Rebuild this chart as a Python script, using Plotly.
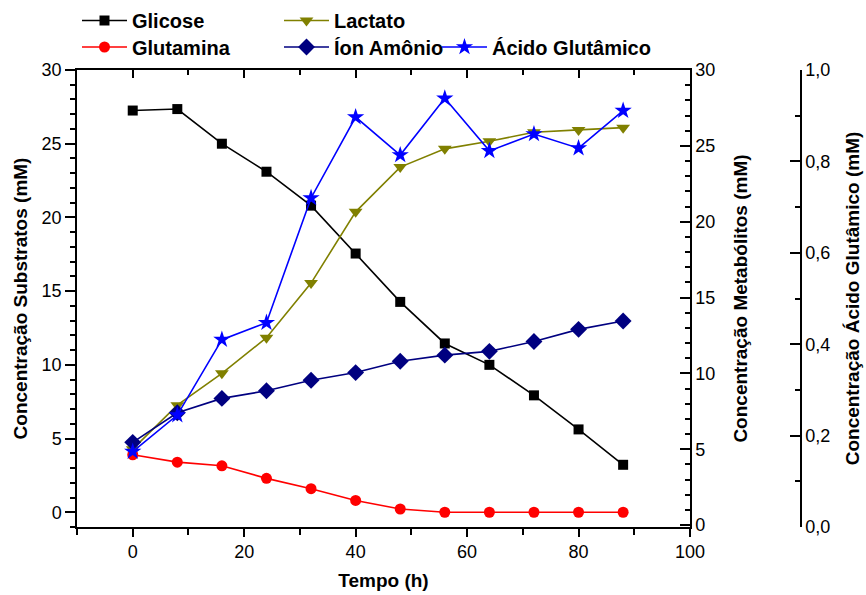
import plotly.graph_objects as go

tempo = [0, 8, 16, 24, 32, 40, 48, 56, 64, 72, 80, 88]
glicose = [27.25, 27.35, 25.0, 23.1, 20.8, 17.55, 14.27, 11.45, 10.0, 7.93, 5.62, 3.22]
glutamina = [3.9, 3.4, 3.15, 2.3, 1.6, 0.8, 0.22, 0, 0, 0, 0, 0]
lactato = [5.0, 7.9, 10.0, 12.35, 15.95, 20.65, 23.6, 24.8, 25.3, 25.9, 26.05, 26.2]
amonio = [5.45, 7.4, 8.35, 8.85, 9.55, 10.05, 10.8, 11.2, 11.45, 12.1, 12.9, 13.45]
glutamico = [0.165, 0.245, 0.41, 0.447, 0.72, 0.897, 0.814, 0.938, 0.823, 0.86, 0.829, 0.911]

FONT = "Liberation Sans, Arial, sans-serif"
W, H = 866, 595
L, R, T, B = 77, 65, 70, 68
plot_w = W - L - R
plot_h = H - T - B
x_dom_end = (690 - L) / plot_w

fig = go.Figure()

fig.add_trace(go.Scatter(x=tempo, y=glicose, name="Glicose", mode="lines+markers",
                         line=dict(color="black", width=1.6),
                         marker=dict(symbol="square", size=10, color="black"),
                         xaxis="x", yaxis="y", legend="legend"))
fig.add_trace(go.Scatter(x=tempo, y=glutamina, name="Glutamina", mode="lines+markers",
                         line=dict(color="#ff0000", width=1.6),
                         marker=dict(symbol="circle", size=11, color="#ff0000"),
                         xaxis="x", yaxis="y", legend="legend2"))
fig.add_trace(go.Scatter(x=tempo, y=lactato, name="Lactato", mode="lines+markers",
                         line=dict(color="#808000", width=1.6),
                         marker=dict(symbol="triangle-down", size=12, color="#808000"),
                         xaxis="x", yaxis="y2", legend="legend"))
fig.add_trace(go.Scatter(x=tempo, y=amonio, name="Íon Amônio", mode="lines+markers",
                         line=dict(color="#000080", width=1.6),
                         marker=dict(symbol="diamond", size=13, color="#000080"),
                         xaxis="x", yaxis="y2", legend="legend2"))
fig.add_trace(go.Scatter(x=tempo, y=glutamico, name="Ácido Glutâmico", mode="lines+markers",
                         line=dict(color="#0000ff", width=1.6),
                         marker=dict(symbol="star", size=13, color="#0000ff"),
                         xaxis="x", yaxis="y3", legend="legend3"))
# invisible trace to anchor the top frame axis
fig.add_trace(go.Scatter(x=[tempo[0]], y=[glicose[0]], mode="markers", showlegend=False,
                         marker=dict(opacity=0), hoverinfo="skip", xaxis="x2", yaxis="y"))

tickfont = dict(family=FONT, size=18, color="black")
titlefont = dict(family=FONT, size=19, color="black", weight="bold")
legfont = dict(family=FONT, size=20, color="black", weight="bold")
common = dict(showline=True, linecolor="black", linewidth=1.5, showgrid=False,
              zeroline=False, tickcolor="black", tickwidth=1.5, tickfont=tickfont)

def legpos(x_px, y_px):
    return (x_px - L) / plot_w, 1 + (T - y_px) / plot_h

lx1, ly1 = legpos(77, 1)
lx2, ly2 = legpos(77, 27.5)
lx3, ly3 = legpos(437, 27.5)

fig.update_layout(
    width=W, height=H,
    margin=dict(l=L, r=R, t=T, b=B, autoexpand=False),
    paper_bgcolor="white", plot_bgcolor="white",
    separators=",.",
    showlegend=True,
    xaxis=dict(domain=[0, x_dom_end], range=[-10, 100], dtick=20, tick0=0,
               ticks="outside", ticklen=8,
               minor=dict(dtick=10, ticks="outside", ticklen=6, tickcolor="black", tickwidth=1.5),
               title=dict(text="Tempo (h)", font=titlefont, standoff=12),
               anchor="y", **common),
    xaxis2=dict(overlaying="x", matches="x", side="top", anchor="y",
                range=[-10, 100], dtick=20, tick0=0, ticks="inside", ticklen=8,
                showticklabels=False,
                minor=dict(dtick=10, ticks="inside", ticklen=5, tickcolor="black", tickwidth=1.5),
                **common),
    yaxis=dict(range=[-1, 30], dtick=5, tick0=0, ticks="outside", ticklen=10,
               minor=dict(dtick=1, ticks="outside", ticklen=5, tickcolor="black", tickwidth=1.5),
               title=dict(text="Concentração Substratos (mM)", font=titlefont, standoff=9),
               anchor="x", automargin=False, **common),
    yaxis2=dict(range=[-0.13, 30], dtick=5, tick0=0, ticks="inside", ticklen=10,
                minor=dict(dtick=1, ticks="inside", ticklen=5, tickcolor="black", tickwidth=1.5),
                overlaying="y", side="right", anchor="x",
                title=dict(text="Concentração Metabólitos (mM)", font=titlefont, standoff=19),
                automargin=False, **common),
    yaxis3=dict(range=[0, 1], dtick=0.2, tick0=0, tickformat=".1f", ticks="inside", ticklen=10,
                minor=dict(dtick=0.1, ticks="inside", ticklen=5, tickcolor="black", tickwidth=1.5),
                overlaying="y", side="right", anchor="free", position=1.0,
                title=dict(text="Concentração Ácido Glutâmico (mM)", font=titlefont, standoff=15),
                automargin=False, **common),
    legend=dict(orientation="h", x=lx1, xanchor="left", y=ly1, yanchor="top",
                font=legfont, itemwidth=45, entrywidth=142,
                bgcolor="rgba(0,0,0,0)", tracegroupgap=0),
    legend2=dict(orientation="h", x=lx2, xanchor="left", y=ly2, yanchor="top",
                 font=legfont, itemwidth=45, entrywidth=142,
                 bgcolor="rgba(0,0,0,0)", tracegroupgap=0),
    legend3=dict(orientation="h", x=lx3, xanchor="left", y=ly3, yanchor="top",
                 font=legfont, itemwidth=45,
                 bgcolor="rgba(0,0,0,0)", tracegroupgap=0),
)

fig.write_html("out.html")
